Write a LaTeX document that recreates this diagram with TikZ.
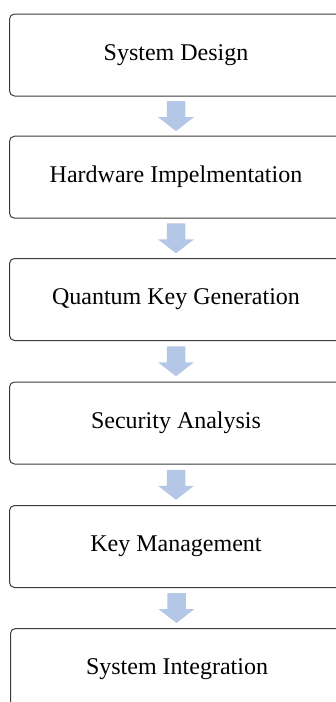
\documentclass[tikz,border=0pt]{standalone}
\usepackage{fontspec}
\setmainfont{Liberation Serif}
\usetikzlibrary{calc}

\definecolor{boxline}{HTML}{3C3C3C}
\definecolor{arrowblue}{HTML}{B4C7E7}

\tikzset{
  stepbox/.style={draw=boxline, line width=1pt, rounded corners=5pt,
    minimum width=333pt, minimum height=82pt, inner sep=0pt,
    font=\fontsize{24}{28}\selectfont, text=black},
  blockarrow/.style={fill=arrowblue, draw=none}
}

% wide block arrow centred in the gap between two boxes
\newcommand\flowarrow[2]{%
  \path ($(#1.south)!0.5!(#2.north)$) coordinate (#1-#2-mid);
  \fill[blockarrow]
    ($(#1-#2-mid)+(-9.25,-15)$) -- ($(#1-#2-mid)+(9.25,-15)$) --
    ($(#1-#2-mid)+(9.25,1)$) -- ($(#1-#2-mid)+(18,1)$) --
    ($(#1-#2-mid)+(0,15)$) -- ($(#1-#2-mid)+(-18,1)$) --
    ($(#1-#2-mid)+(-9.25,1)$) -- cycle;}

\begin{document}
\begin{tikzpicture}[x=1pt,y=-1pt]
  \useasboundingbox (0,0) rectangle (336,702);
  \clip (0,0) rectangle (336,702);

  \node[stepbox] (design)   at (176,55.0)  {System Design};
  \node[stepbox] (hardware) at (176,177.2) {Hardware Impelmentation};
  \node[stepbox] (qkg)      at (176,299.5) {Quantum Key Generation};
  \node[stepbox] (security) at (176,423.0) {Security Analysis};
  \node[stepbox] (keymgmt)  at (176,546.5) {Key Management};
  \node[stepbox] (integr)   at (177,669.5) {System Integration};

  \flowarrow{design}{hardware}
  \flowarrow{hardware}{qkg}
  \flowarrow{qkg}{security}
  \flowarrow{security}{keymgmt}
  \flowarrow{keymgmt}{integr}
\end{tikzpicture}
\end{document}
